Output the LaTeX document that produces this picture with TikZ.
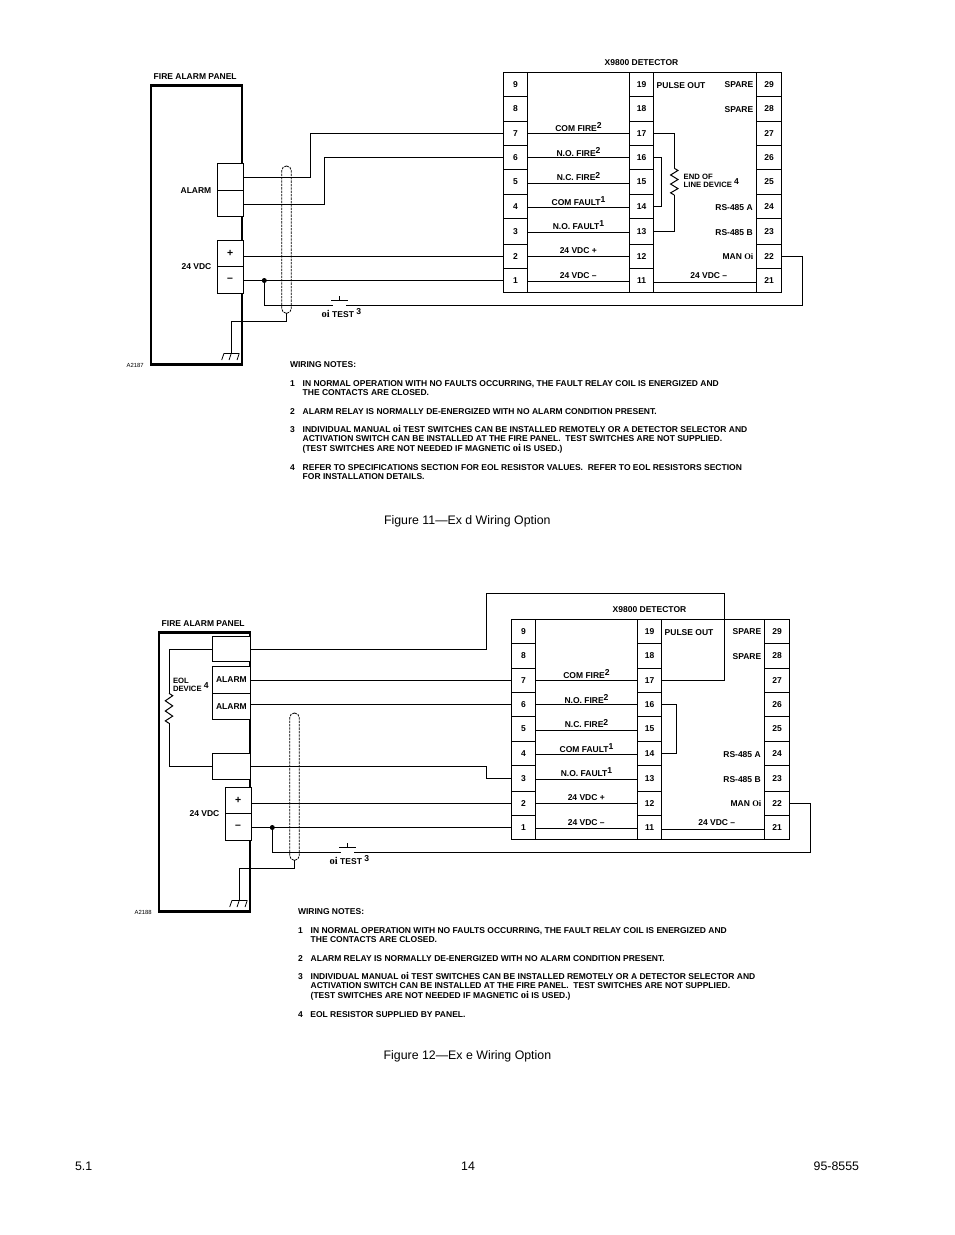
\documentclass[tikz,border=0pt]{standalone}
\usepackage{fontspec}
\setmainfont{Liberation Sans}
\newfontfamily\oifam{Liberation Serif}
\newcommand\oiu{{\oifam\bfseries Oi}}
\newcommand\oil{{\oifam\bfseries\fontsize{10.5}{9}\selectfont oi}}
\newcommand\supr[1]{\raisebox{2.6pt}{\fontsize{8.6}{9}\selectfont #1}}
\newcommand\term[6]{%
  \pgfmathsetmacro\cxx{(#2+#4)/2}\pgfmathsetmacro\cyy{(#3+#5)/2}%
  \pgfmathsetmacro\wxx{#4-#2}\pgfmathsetmacro\hyy{#5-#3}%
  \node[termb,minimum width=\wxx pt,minimum height=\hyy pt] (#1) at (\cxx,\cyy) {#6};}
\newcommand\resist[3]{%
  \draw[wire,line join=miter] (#1) -- ++(#3,#2*.08) -- ++(-2*#3,#2*.17) -- ++(2*#3,#2*.17) -- ++(-2*#3,#2*.17) -- ++(2*#3,#2*.17) -- ++(-2*#3,#2*.16) -- ++(#3,#2*.08);}
\tikzset{
  wire/.style={line width=1pt},
  termb/.style={draw,line width=1pt,inner sep=0pt,outer sep=0pt,fill=white,font=\lab},
  lab/.style={inner sep=0pt,outer sep=0pt,anchor=base,font=\lab,yshift=-.7pt},
  labl/.style={lab,anchor=base west},
  labr/.style={lab,anchor=base east},
  smalll/.style={labl,font=\bfseries\fontsize{7.7}{8}\selectfont},
  note/.style={inner sep=0pt,outer sep=0pt,anchor=base west,font=\lab},
  figcap/.style={inner sep=0pt,outer sep=0pt,anchor=base west,font=\fontsize{12.35}{14}\selectfont},
  idl/.style={labl,font=\fontsize{5.9}{6}\selectfont},
  panel/.style={draw,line width=2.5pt,inner sep=0pt,outer sep=0pt},
}
\newcommand\lab{\bfseries\fontsize{8.5}{9}\selectfont}
\newcommand\common[2]{%
  % detector
  \term{#1box}{503.3}{72}{781.7}{292.3}{}
  \foreach \k/\a/\b in {9/72/96.3,8/96.3/121,7/121/145.7,6/145.7/169.3,5/169.3/194.3,4/194.3/218.7,3/218.7/244,2/244/268.7,1/268.7/292.3}{
    \pgfmathtruncatemacro\km{\k+10}\pgfmathtruncatemacro\kr{\k+20}
    \term{#1d\k}{503.3}{\a}{527.7}{\b}{\k}
    \term{#1d\km}{629.3}{\a}{653.7}{\b}{\km}
    \term{#1d\kr}{756.3}{\a}{781.7}{\b}{\kr}
  }
  \draw[wire] (#1d7.east) -- (#1d17.west);
  \draw[wire] (#1d6.east) -- (#1d16.west);
  \draw[wire] ([yshift=-1.5pt]#1d5.east) -- ([yshift=-1.5pt]#1d15.west);
  \draw[wire] ([yshift=-.8pt]#1d4.east) -- ([yshift=-.8pt]#1d14.west);
  \draw[wire] ([yshift=-1pt]#1d3.east) -- ([yshift=-1pt]#1d13.west);
  \draw[wire] (#1d2.east) -- (#1d12.west);
  \draw[wire] ([yshift=-.8pt]#1d1.east) -- ([yshift=-.8pt]#1d11.west);
  \draw[wire] ([yshift=-1.8pt]#1d11.east) -- ([yshift=-1.8pt]#1d21.west);
  \node[lab] (#1t0) at (641.5,64.7) {X9800 DETECTOR};
  \node[lab] (#1t1) at (578.5,130.7) {COM FIRE\supr{2}};
  \node[lab] (#1t2) at (578.5,155.3) {N.O. FIRE\supr{2}};
  \node[lab] (#1t3) at (578.5,180) {N.C. FIRE\supr{2}};
  \node[lab] (#1t4) at (578.5,204.7) {COM FAULT\supr{1}};
  \node[lab] (#1t5) at (578.5,228.7) {N.O. FAULT\supr{1}};
  \node[lab] (#1t6) at (578.3,252.7) {24 VDC +};
  \node[lab] (#1t7) at (578.3,277.7) {24 VDC --};
  \node[lab] (#1t8) at (708.7,277.7) {24 VDC --};
  \node[labl] (#1t9) at (656.7,87.7) {PULSE OUT};
  \node[labr] (#1t10) at (753.3,86.7) {SPARE};
  \node[labr] (#1t11) at (753.3,111.3) {SPARE};
  \node[labr] (#1t12) at (752.7,209.7) {RS-485 A};
  \node[labr] (#1t13) at (752.7,234.3) {RS-485 B};
  \node[labr] (#1t14) at (753.3,258.7) {MAN \oiu};
  % panel
  \node[labl] (#1t15) at (153.7,78.7) {FIRE ALARM PANEL};
  \node[panel,minimum width=91pt,minimum height=279.2pt] (#1frame) at (196.65,224.85) {};
  \term{#1vp}{217.3}{240.3}{243}{266.7}{\fontsize{10.5}{11}\selectfont +}
  \term{#1vm}{217.3}{266.7}{243}{293.3}{\fontsize{10.5}{11}\selectfont --}
  \node[labr] (#1t16) at (211.3,269) {24 VDC};
  \node[idl] (#1t17) at (126.7,367) {#2};
  % 24 V wires
  \draw[wire] (#1vp.east |- #1d2.west) -- (#1d2.west);
  \draw[wire] (#1vm.east |- #1d1.west) -- (#1d1.west);
  \node[circle,fill=black,inner sep=0pt,minimum size=5pt] (#1dot) at (264.3,280.5) {};
  % test switch
  \coordinate (#1swL) at (333.3,305.3);
  \coordinate (#1swR) at (346,305.3);
  \coordinate (#1far) at (802.7,305.3);
  \draw[wire] (#1dot.center) -- (#1dot.center |- #1swL) -- (#1swL);
  \draw[wire] (#1swR) -- (#1far) -- (#1far |- #1d22.east) -- (#1d22.east);
  \coordinate (#1swT) at (339.3,300);
  \draw[wire] ([xshift=-8.3pt]#1swT) -- ([xshift=8.7pt]#1swT);
  \draw[wire] (#1swT) -- ([yshift=4pt]#1swT);
  \node[labl] (#1t18) at (321.7,316.7) {\oil\ TEST \supr{3}};
  % shield
  \node[draw,dashed,dash pattern=on 2.4pt off 1pt,line width=.8pt,rounded corners=4.7pt,inner sep=0pt,outer sep=0pt,minimum width=9.6pt,minimum height=147.3pt] (#1sh) at (286.5,239.65) {};
  % ground
  \coordinate (#1gnd) at (231.3,353.3);
  \draw[wire] (#1sh.south) -- ([yshift=-8.4pt]#1sh.south) -- ([yshift=-8.4pt]#1sh.south -| #1gnd) -- (#1gnd);
  \draw[wire] ([xshift=-7.3pt]#1gnd) -- ([xshift=8pt]#1gnd);
  \foreach \dx in {-7.3,0,8}{\draw[line width=.8pt] ([xshift=\dx pt]#1gnd) -- ([xshift={\dx pt-2.3pt},yshift=-6.7pt]#1gnd);}
  % notes
  \node[note] (#1n0) at (290,367) {WIRING NOTES:};
  \node[note] (#1n1) at (290,386) {1};
  \node[note] (#1n2) at (302.7,386) {IN NORMAL OPERATION WITH NO FAULTS OCCURRING, THE FAULT RELAY COIL IS ENERGIZED AND};
  \node[note] (#1n3) at (302.7,395) {THE CONTACTS ARE CLOSED.};
  \node[note] (#1n4) at (290,414) {2};
  \node[note] (#1n5) at (302.7,414) {ALARM RELAY IS NORMALLY DE-ENERGIZED WITH NO ALARM CONDITION PRESENT.};
  \node[note] (#1n6) at (290,432.7) {3};
  \node[note] (#1n7) at (302.7,432.7) {INDIVIDUAL MANUAL \oil\ TEST SWITCHES CAN BE INSTALLED REMOTELY OR A DETECTOR SELECTOR AND};
  \node[note] (#1n8) at (302.7,441.7) {ACTIVATION SWITCH CAN BE INSTALLED AT THE FIRE PANEL.\ \ TEST SWITCHES ARE NOT SUPPLIED.};
  \node[note] (#1n9) at (302.7,451) {(TEST SWITCHES ARE NOT NEEDED IF MAGNETIC \oil\ IS USED.)};
  \node[note] (#1n10) at (290,470) {4};
}
\begin{document}
\begin{tikzpicture}[x=1pt,y=-1pt]
\useasboundingbox (0,0) rectangle (954,1235);
\fill[white] (0,0) rectangle (954,1235);
% ---------- Figure 11
\begin{scope}
  \common{A}{A2187}
  \term{Aa1}{217.3}{163.3}{243}{190.3}{}
  \term{Aa2}{217.3}{190.3}{243}{216.3}{}
  \node[labr] (Aalarm) at (211.3,193) {ALARM};
  \coordinate (Ak1) at (310.3,177.3);
  \coordinate (Ak2) at (324,204.3);
  \draw[wire] (Aa1.east |- Ak1) -- (Ak1) -- (Ak1 |- Ad7.west) -- (Ad7.west);
  \draw[wire] (Aa2.east |- Ak2) -- (Ak2) -- (Ak2 |- Ad6.west) -- (Ad6.west);
  \coordinate (Ar) at (674.3,168.3);
  \coordinate (Arb) at (674.3,195);
  \draw[wire] (Ad17.east) -- (Ad17.east -| Ar) -- (Ar);
  \resist{Ar}{26.7}{3.7}
  \draw[wire] (Arb) -- (Arb |- Ad13.east) -- (Ad13.east);
  \coordinate (Aj) at (661.3,180);
  \draw[wire] (Ad16.east) -- (Ad16.east -| Aj) -- (Aj |- Ad14.east) -- (Ad14.east);
  \node[smalll] (Ae1) at (683.7,178.3) {END OF};
  \node[smalll] (Ae2) at (683.7,186.3) {LINE DEVICE \supr{4}};
  \node[note] (An11) at (302.7,470) {REFER TO SPECIFICATIONS SECTION FOR EOL RESISTOR VALUES.\ \ REFER TO EOL RESISTORS SECTION};
  \node[note] (An12) at (302.7,479) {FOR INSTALLATION DETAILS.};
  \node[figcap] (Acap) at (384,524) {Figure 11—Ex d Wiring Option};
\end{scope}
% ---------- Figure 12
\begin{scope}[shift={(8,547)}]
  \common{B}{A2188}
\end{scope}
\term{Bb0}{212.3}{636.3}{250}{661.7}{}
\term{Bb1}{212.3}{666.3}{250.5}{693.3}{ALARM}
\term{Bb2}{212.3}{693.3}{250.5}{719.3}{ALARM}
\term{Bb3}{212.3}{753.3}{250.5}{779.3}{}
\coordinate (Bx) at (486.5,593.3);
\coordinate (Bt) at (724.3,593.3);
\coordinate (Bw3) at (486.5,766);
\draw[wire] (Bb0.east) -- (Bb0.east -| Bx) -- (Bx) -- (Bt) -- (Bt |- Bd17.east) -- (Bd17.east);
\draw[wire] (Bb1.east |- Bd7.west) -- (Bd7.west);
\draw[wire] (Bb2.east |- Bd6.west) -- (Bd6.west);
\draw[wire] (Bb3.east |- Bw3) -- (Bw3) -- (Bw3 |- Bd3.west) -- (Bd3.west);
\coordinate (Bj) at (676.7,730);
\draw[wire] (Bd16.east) -- (Bd16.east -| Bj) -- (Bj |- Bd14.east) -- (Bd14.east);
\coordinate (Br) at (169,693.3);
\coordinate (Brb) at (169,723.3);
\draw[wire] (Bb0.west) -- (Bb0.west -| Br) -- (Br);
\resist{Br}{30}{3.7}
\draw[wire] (Brb) -- (Brb |- Bb3.west) -- (Bb3.west);
\node[smalll] (Be1) at (173,682.7) {EOL};
\node[smalll] (Be2) at (173,690.3) {DEVICE \supr{4}};
\node[note] (Bn11) at (310.4,1017) {EOL RESISTOR SUPPLIED BY PANEL.};
\node[figcap] (Bcap) at (383.7,1059) {Figure 12—Ex e Wiring Option};
% ---------- footer
\node[figcap] (f1) at (75,1170) {5.1};
\node[figcap,anchor=base] (f2) at (468,1170) {14};
\node[figcap,anchor=base east] (f3) at (859,1170) {95-8555};
\end{tikzpicture}
\end{document}
